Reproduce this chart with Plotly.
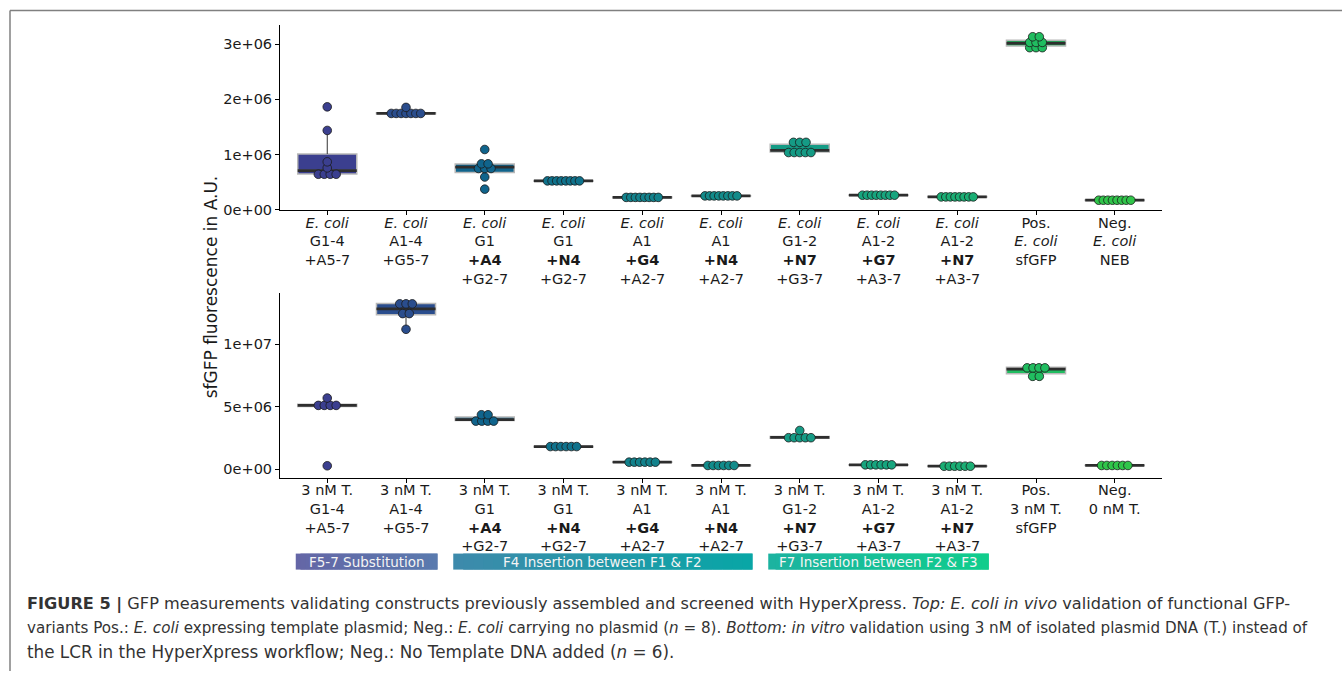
import numpy as np
import plotly.graph_objects as go

# ---------------- data ----------------
invivo_labels = [
    "<i>E. coli</i><br>G1-4<br>+A5-7",
    "<i>E. coli</i><br>A1-4<br>+G5-7",
    "<i>E. coli</i><br>G1<br><b>+A4</b><br>+G2-7",
    "<i>E. coli</i><br>G1<br><b>+N4</b><br>+G2-7",
    "<i>E. coli</i><br>A1<br><b>+G4</b><br>+A2-7",
    "<i>E. coli</i><br>A1<br><b>+N4</b><br>+A2-7",
    "<i>E. coli</i><br>G1-2<br><b>+N7</b><br>+G3-7",
    "<i>E. coli</i><br>A1-2<br><b>+G7</b><br>+A3-7",
    "<i>E. coli</i><br>A1-2<br><b>+N7</b><br>+A3-7",
    "Pos.<br><i>E. coli</i><br>sfGFP",
    "Neg.<br><i>E. coli</i><br>NEB",
]
invitro_labels = [
    "3 nM T.<br>G1-4<br>+A5-7",
    "3 nM T.<br>A1-4<br>+G5-7",
    "3 nM T.<br>G1<br><b>+A4</b><br>+G2-7",
    "3 nM T.<br>G1<br><b>+N4</b><br>+G2-7",
    "3 nM T.<br>A1<br><b>+G4</b><br>+A2-7",
    "3 nM T.<br>A1<br><b>+N4</b><br>+A2-7",
    "3 nM T.<br>G1-2<br><b>+N7</b><br>+G3-7",
    "3 nM T.<br>A1-2<br><b>+G7</b><br>+A3-7",
    "3 nM T.<br>A1-2<br><b>+N7</b><br>+A3-7",
    "Pos.<br>3 nM T.<br>sfGFP",
    "Neg.<br>0 nM T.",
]

# in vivo (E. coli) sfGFP fluorescence, A.U. (n = 8)
invivo_values = [
    [0.62e6, 0.63e6, 0.65e6, 0.66e6, 0.756e6, 0.866e6, 1.436e6, 1.865e6],
    [1.73e6, 1.735e6, 1.74e6, 1.745e6, 1.75e6, 1.755e6, 1.76e6, 1.855e6],
    [0.37e6, 0.59e6, 0.70e6, 0.75e6, 0.79e6, 0.82e6, 0.84e6, 1.09e6],
    [0.51e6, 0.513e6, 0.516e6, 0.519e6, 0.522e6, 0.525e6, 0.528e6, 0.53e6],
    [0.21e6, 0.213e6, 0.216e6, 0.219e6, 0.222e6, 0.225e6, 0.228e6, 0.23e6],
    [0.24e6, 0.243e6, 0.245e6, 0.247e6, 0.249e6, 0.251e6, 0.253e6, 0.255e6],
    [0.99e6, 1.03e6, 1.05e6, 1.07e6, 1.08e6, 1.17e6, 1.24e6, 1.27e6],
    [0.25e6, 0.253e6, 0.256e6, 0.259e6, 0.262e6, 0.264e6, 0.266e6, 0.27e6],
    [0.22e6, 0.223e6, 0.226e6, 0.229e6, 0.232e6, 0.234e6, 0.236e6, 0.238e6],
    [2.90e6, 2.94e6, 2.98e6, 3.01e6, 3.03e6, 3.06e6, 3.12e6, 3.155e6],
    [0.16e6, 0.163e6, 0.166e6, 0.169e6, 0.171e6, 0.173e6, 0.175e6, 0.178e6],
]

# in vitro (3 nM template) sfGFP fluorescence, A.U. (n = 6)
invitro_values = [
    [0.27e6, 5.00e6, 5.08e6, 5.14e6, 5.22e6, 5.70e6],
    [11.21e6, 12.30e6, 12.64e6, 13.05e6, 13.35e6, 13.45e6],
    [3.70e6, 3.88e6, 3.95e6, 4.00e6, 4.25e6, 4.47e6],
    [1.76e6, 1.78e6, 1.80e6, 1.82e6, 1.84e6, 1.86e6],
    [0.52e6, 0.54e6, 0.56e6, 0.57e6, 0.58e6, 0.60e6],
    [0.26e6, 0.28e6, 0.29e6, 0.30e6, 0.31e6, 0.33e6],
    [2.40e6, 2.45e6, 2.52e6, 2.56e6, 2.64e6, 3.10e6],
    [0.31e6, 0.33e6, 0.34e6, 0.35e6, 0.36e6, 0.38e6],
    [0.20e6, 0.22e6, 0.23e6, 0.24e6, 0.25e6, 0.27e6],
    [7.33e6, 7.55e6, 7.95e6, 8.10e6, 8.20e6, 8.29e6],
    [0.26e6, 0.28e6, 0.29e6, 0.30e6, 0.31e6, 0.33e6],
]

fill_colors = ["#3b3f8f", "#2a4d8d", "#10648c", "#0f728c", "#12828c", "#128b8a",
               "#159b85", "#17a57e", "#1aae74", "#20bd60", "#30c54a"]

top_yticks = [0, 1e6, 2e6, 3e6]
top_yticktext = ["0e+00", "1e+06", "2e+06", "3e+06"]
bottom_yticks = [0, 5e6, 1e7]
bottom_yticktext = ["0e+00", "5e+06", "1e+07"]

group_labels = ["F5-7 Substitution", "F4 Insertion between F1 & F2", "F7 Insertion between F2 & F3"]
group_first = [0, 2, 6]
group_last = [1, 5, 8]
group_colors = [("#6466a6", "#5a7aae"), ("#3e8aab", "#08a6a6"), ("#1cb3a0", "#10cd8c")]

y_title = "sfGFP fluorescence in A.U."
caption_lines = [
    "<b>FIGURE 5 |</b> GFP measurements validating constructs previously assembled and screened with HyperXpress. "
    "<i>Top: E. coli in vivo</i> validation of functional GFP-",
    "variants Pos.: <i>E. coli</i> expressing template plasmid; Neg.: <i>E. coli</i> carrying no plasmid (<i>n</i> = 8). "
    "<i>Bottom: in vitro</i> validation using 3 nM of isolated plasmid DNA (T.) instead of",
    "the LCR in the HyperXpress workflow; Neg.: No Template DNA added (<i>n</i> = 6).",
]
caption_sizes = [16.15, 15.15, 16.8]

# ---------------- layout geometry ----------------
W, H = 1342, 678
K = 1.0115  # compensates the slight vertical squeeze seen in the rendered page
X0, X1 = 280, 1162
XRANGE = [-0.6, 10.6]
PX_PER_UNIT = (X1 - X0) / (XRANGE[1] - XRANGE[0])
FONT = "DejaVu Sans, Liberation Sans, Arial, sans-serif"


def py(pix):
    return 1 - pix * K / H


TOP_DOM = [py(210), py(25)]
BOT_DOM = [py(477), py(292.7)]
TOP_RANGE = [-0.013e6, 3.351e6]
BOT_RANGE = [-0.67e6, 14.12e6]


def stats(vals):
    v = np.sort(np.asarray(vals, float))
    q1, med, q3 = np.percentile(v, [25, 50, 75])
    iqr = q3 - q1
    lo = v[v >= q1 - 1.5 * iqr].min()
    hi = v[v <= q3 + 1.5 * iqr].max()
    return q1, med, q3, lo, hi


def dots(vals, bw, cx):
    v = np.sort(np.asarray(vals, float))
    bins = []
    end = -np.inf
    for x in v:
        if x >= end:
            bins.append([x])
            end = x + bw
        else:
            bins[-1].append(x)
    xs, ys = [], []
    for b in bins:
        c = (min(b) + max(b)) / 2
        n = len(b)
        sp = (7.3 - 0.34 * n) / PX_PER_UNIT
        for j in range(n):
            xs.append(cx + (j - (n - 1) / 2) * sp)
            ys.append(c)
    return xs, ys


fig = go.Figure()

for values, xa, ya, bw in [(invivo_values, "x", "y", 0.105e6), (invitro_values, "x2", "y2", 0.45e6)]:
    for i, vals in enumerate(values):
        q1, med, q3, lo, hi = stats(vals)
        fig.add_trace(go.Box(
            x=[i], q1=[q1], median=[med], q3=[q3], lowerfence=[q1], upperfence=[q3],
            width=0.75, fillcolor=fill_colors[i], whiskerwidth=0,
            line=dict(color="#b8b8b8", width=1.5), xaxis=xa, yaxis=ya,
            showlegend=False, hoverinfo="skip"))
        fig.add_trace(go.Scatter(
            x=[i, i, None, i, i], y=[q3, hi, None, q1, lo], mode="lines",
            line=dict(color="#333333", width=1), xaxis=xa, yaxis=ya,
            showlegend=False, hoverinfo="skip"))
        fig.add_trace(go.Scatter(
            x=[i - 0.375, i + 0.375], y=[med, med], mode="lines",
            line=dict(color="#2e2e2e", width=2.8), xaxis=xa, yaxis=ya,
            showlegend=False, hoverinfo="skip"))
    for i, vals in enumerate(values):
        xs, ys = dots(vals, bw, i)
        fig.add_trace(go.Scatter(
            x=xs, y=ys, mode="markers",
            marker=dict(size=8.6, color=fill_colors[i], line=dict(color="#1b1b1b", width=0.8)),
            xaxis=xa, yaxis=ya, showlegend=False, hoverinfo="skip"))

tickfont = dict(family=FONT, size=14.5, color="#1a1a1a")
axis_common = dict(showline=True, linecolor="black", linewidth=1, ticks="outside",
                   ticklen=4, tickwidth=1, tickcolor="black", showgrid=False,
                   zeroline=False, tickfont=tickfont)

fig.update_layout(
    width=W, margin=dict(l=0, r=0, t=0, b=0),
    paper_bgcolor="white", plot_bgcolor="white",
    xaxis=dict(domain=[X0 / W, X1 / W], range=XRANGE, anchor="y",
               tickmode="array", tickvals=list(range(len(invivo_labels))),
               ticktext=invivo_labels, ticklabelstandoff=-5, **axis_common),
    yaxis=dict(domain=TOP_DOM, range=TOP_RANGE, anchor="x",
               tickmode="array", tickvals=top_yticks, ticktext=top_yticktext, **axis_common),
    xaxis2=dict(domain=[X0 / W, X1 / W], range=XRANGE, anchor="y2",
                tickmode="array", tickvals=list(range(len(invitro_labels))),
                ticktext=invitro_labels, ticklabelstandoff=-5, **axis_common),
    yaxis2=dict(domain=BOT_DOM, range=BOT_RANGE, anchor="x2",
                tickmode="array", tickvals=bottom_yticks, ticktext=bottom_yticktext, **axis_common),
)

shapes = []
annotations = []
NSLICE = 30
bar_y0, bar_y1 = py(569), py(553)
for lab, a, b, (c0, c1) in zip(group_labels, group_first, group_last, group_colors):
    xa0, xa1 = a - 0.4, b + 0.4
    step = (xa1 - xa0) / NSLICE
    ca = np.array([int(c0[k:k + 2], 16) for k in (1, 3, 5)])
    cb = np.array([int(c1[k:k + 2], 16) for k in (1, 3, 5)])
    for s in range(NSLICE):
        t = (s + 0.5) / NSLICE
        col = ca + (cb - ca) * t
        shapes.append(dict(type="rect", xref="x2", yref="paper",
                           x0=xa0 + step * s, x1=min(xa1, xa0 + step * (s + 2)),
                           y0=bar_y0, y1=bar_y1, line=dict(width=0),
                           fillcolor="rgb(%d,%d,%d)" % tuple(col.round())))
    annotations.append(dict(text=lab, xref="x2", yref="paper", x=(xa0 + xa1) / 2,
                            y=(bar_y0 + bar_y1) / 2, showarrow=False,
                            font=dict(family=FONT, size=13.5, color="#f4f4f4"),
                            xanchor="center", yanchor="middle"))

shapes.append(dict(type="line", xref="paper", yref="paper", x0=10 / W, x1=1, y0=py(10.5), y1=py(10.5),
                   line=dict(color="#808080", width=1.5)))
shapes.append(dict(type="line", xref="paper", yref="paper", x0=10 / W, x1=10 / W, y0=py(10.5), y1=0,
                   line=dict(color="#808080", width=1.5)))

annotations.append(dict(text=y_title, xref="paper", yref="paper", x=211 / W, y=py(287),
                        textangle=-90, showarrow=False, xanchor="center", yanchor="middle",
                        font=dict(family=FONT, size=17, color="#1a1a1a")))

for k, (line, fs) in enumerate(zip(caption_lines, caption_sizes)):
    annotations.append(dict(text=line, xref="paper", yref="paper", x=25 / W, y=py(603 + 24 * k),
                            showarrow=False, xanchor="left", yanchor="middle", align="left",
                            font=dict(family=FONT, size=fs, color="#333333")))

fig.update_layout(shapes=shapes, annotations=annotations)
fig.write_html("out.html", default_height="100vh",
               config={"displayModeBar": False},
               post_script="document.body.style.margin='0px';document.body.style.overflow='hidden';")
